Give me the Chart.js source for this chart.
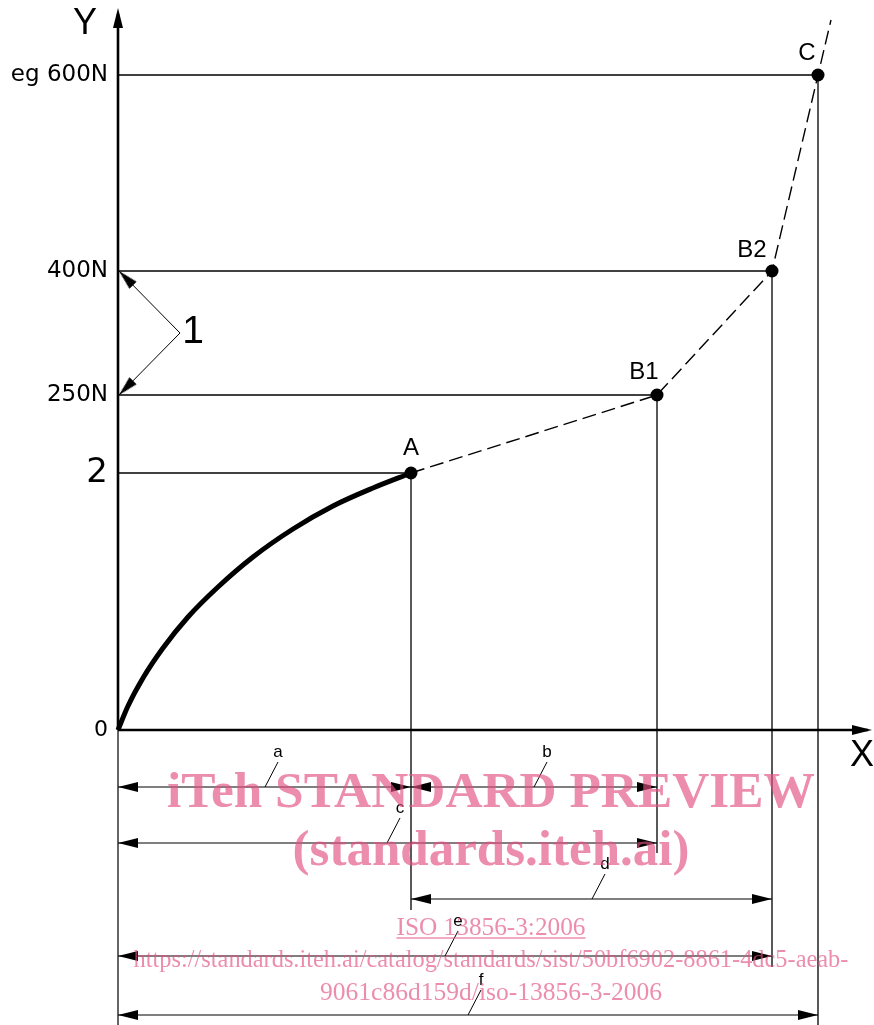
<!DOCTYPE html>
<html><head><meta charset="utf-8">
<script src="https://cdn.jsdelivr.net/npm/chart.js@4.4.1/dist/chart.umd.min.js"></script>
<style>html,body{margin:0;padding:0;background:#fff}canvas{display:block}</style>
</head><body>
<canvas id="c" width="874" height="1025"></canvas>
<script>
// ---------- data (schematic units, origin at 0,0) ----------
const pointNames = ['A', 'B1', 'B2', 'C'];
const pointX = [293, 539, 654, 700];
const pointY = [257, 335, 459, 655];
const curveX = [0, 10, 25, 45, 70, 100, 135, 175, 215, 255, 293];
const curveY = [0, 24, 52, 82, 113, 143, 173, 201, 224, 242, 257];
const extensionX = [713];
const extensionY = [710];
const yTickValues = [0, 257, 335, 459, 655];
const yTickLabels = ['0', '2', '250N', '400N', 'eg 600N'];
const dimNames = ['a', 'b', 'c', 'd', 'e', 'f'];
const dimFrom = [0, pointX[0], 0, pointX[0], 0, 0];
const dimTo = [pointX[0], pointX[1], pointX[1], pointX[2], pointX[2], pointX[3]];
const dimLevel = [-57, -57, -113, -169, -226, -285];
const dimLeaderX = [147, 416, 269, 474, 327, 350];
const extBottom = [-180, -123, -237, -295];
const calloutLabel = '1';
const calloutVertex = [62, 397];
const calloutTargets = [459, 335];
const axisNames = ['X', 'Y'];
const watermarkLines = [
  'iTeh STANDARD PREVIEW',
  '(standards.iteh.ai)',
  'ISO 13856-3:2006',
  'https://standards.iteh.ai/catalog/standards/sist/50bf6902-8861-4dc5-aeab-',
  '9061c86d159d/iso-13856-3-2006'
];

// ---------- ranges ----------
const X_MAX = 756, Y_MIN = -295, Y_MAX = 730;

// ---------- styles ----------
const FONT = '"DejaVu Sans", Arial, sans-serif';
const LFONT = '"Liberation Sans", Arial, sans-serif';
const tickSizes = [22, 34, 23, 23, 23];
const pointLabelOffsets = [[0, -25], [-13, -23], [-20, -21], [-11, -22]];
const wmStyle = [
  {cx: 491, base: 807, w: 648, bold: true},
  {cx: 491, base: 865, w: 397, bold: true},
  {cx: 491, base: 935, w: 189, bold: false, underline: true},
  {cx: 491, base: 967, w: 715, bold: false},
  {cx: 491, base: 1000, w: 342, bold: false}
];

function makeArrow(L, W) {
  const cv = document.createElement('canvas');
  cv.width = 2 * L; cv.height = W;
  const g = cv.getContext('2d');
  g.fillStyle = '#000';
  g.beginPath(); g.moveTo(L, W / 2); g.lineTo(0, 0); g.lineTo(0, W); g.closePath(); g.fill();
  return cv;
}
const arrowImg = makeArrow(20, 10);

function line(pts, opts) {
  return Object.assign({
    data: pts, showLine: true, pointRadius: 0, borderColor: '#000',
    backgroundColor: '#000', borderWidth: 1.3, fill: false, clip: false, tension: 0
  }, opts || {});
}
const P = (x, y) => ({x, y});

const datasets = [];
// axes
datasets.push(line([P(0, 0), P(0, 716)], {borderWidth: 2.6}));
datasets.push(line([P(0, 0), P(X_MAX - 6, 0)], {borderWidth: 2.6}));
datasets.push(line([P(0, 0), P(0, Y_MIN)], {borderWidth: 1.2}));
// guide lines
pointX.forEach((px, i) => {
  datasets.push(line([P(0, pointY[i]), P(px, pointY[i])], {borderWidth: 1.4}));
  datasets.push(line([P(px, pointY[i]), P(px, extBottom[i])], {borderWidth: 1.3}));
});
// dimension lines + leaders
const arrowPts = [], arrowRot = [];
dimNames.forEach((n, i) => {
  datasets.push(line([P(dimFrom[i], dimLevel[i]), P(dimTo[i], dimLevel[i])], {borderWidth: 1.1}));
  datasets.push(line([P(dimLeaderX[i], dimLevel[i]), P(dimLeaderX[i] + 13, dimLevel[i] + 25)], {borderWidth: 1}));
  arrowPts.push(P(dimFrom[i], dimLevel[i])); arrowRot.push(180);
  arrowPts.push(P(dimTo[i], dimLevel[i])); arrowRot.push(0);
});
// callout
calloutTargets.forEach(t => {
  datasets.push(line([P(calloutVertex[0], calloutVertex[1]), P(1, t)], {borderWidth: 1}));
  arrowPts.push(P(1, t));
  arrowRot.push(Math.atan2(-(t - calloutVertex[1]), 1 - calloutVertex[0]) * 180 / Math.PI);
});
// axis arrows
arrowPts.push(P(0, 722)); arrowRot.push(-90);
arrowPts.push(P(X_MAX - 2, 0)); arrowRot.push(0);
// curve
datasets.push(line(curveX.map((x, i) => P(x, curveY[i])), {borderWidth: 5, cubicInterpolationMode: 'monotone'}));
// dashed path
const dashPts = pointX.map((x, i) => P(x, pointY[i])).concat(extensionX.map((x, i) => P(x, extensionY[i])));
datasets.push(line(dashPts, {borderWidth: 1.4, borderDash: [14, 6]}));
// arrowheads
datasets.push({data: arrowPts, showLine: false, pointStyle: arrowImg, pointRadius: 5, pointRotation: arrowRot, clip: false});
// points
datasets.push({data: pointX.map((x, i) => P(x, pointY[i])), showLine: false, pointRadius: 6.5, pointBackgroundColor: '#000', pointBorderColor: '#000', pointBorderWidth: 0, clip: false});

const textPlugin = {
  id: 'texts',
  afterDatasetsDraw(chart) {
    const {ctx, scales: {x, y}} = chart;
    ctx.save();
    ctx.fillStyle = '#000'; ctx.textAlign = 'center'; ctx.textBaseline = 'middle';
    // point labels
    ctx.font = '24px ' + LFONT;
    pointNames.forEach((n, i) => {
      ctx.fillText(n, x.getPixelForValue(pointX[i]) + pointLabelOffsets[i][0], y.getPixelForValue(pointY[i]) + pointLabelOffsets[i][1]);
    });
    // axis names
    ctx.font = '36px ' + LFONT;
    ctx.fillText(axisNames[0], x.getPixelForValue(X_MAX) - 12, y.getPixelForValue(0) + 26);
    ctx.fillText(axisNames[1], x.getPixelForValue(0) - 33, y.getPixelForValue(Y_MAX) + 24);
    // callout
    ctx.font = '39px ' + LFONT;
    ctx.fillText(calloutLabel, x.getPixelForValue(calloutVertex[0]) + 13, y.getPixelForValue(calloutVertex[1]) - 1);
    // dimension letters
    ctx.font = '17px ' + LFONT;
    dimNames.forEach((n, i) => {
      ctx.fillText(n, x.getPixelForValue(dimLeaderX[i] + 13), y.getPixelForValue(dimLevel[i] + 35));
    });
    ctx.restore();
  },
  afterDraw(chart) {
    const ctx = chart.ctx;
    ctx.save();
    ctx.fillStyle = 'rgba(226,80,130,0.65)';
    ctx.strokeStyle = 'rgba(226,80,130,0.65)';
    ctx.textAlign = 'center'; ctx.textBaseline = 'alphabetic';
    watermarkLines.forEach((t, i) => {
      const s = wmStyle[i];
      const fam = '"Liberation Serif", "Times New Roman", serif';
      ctx.font = (s.bold ? 'bold ' : '') + '100px ' + fam;
      const size = 100 * s.w / ctx.measureText(t).width;
      ctx.font = (s.bold ? 'bold ' : '') + size.toFixed(2) + 'px ' + fam;
      ctx.fillText(t, s.cx, s.base);
      if (s.underline) {
        ctx.lineWidth = 1.3;
        ctx.beginPath(); ctx.moveTo(s.cx - s.w / 2, s.base + 3); ctx.lineTo(s.cx + s.w / 2, s.base + 3); ctx.stroke();
      }
    });
    ctx.restore();
  }
};

new Chart(document.getElementById('c'), {
  type: 'scatter',
  data: {datasets},
  options: {
    responsive: false, animation: false, events: [],
    layout: {padding: 0, autoPadding: false},
    plugins: {legend: {display: false}, tooltip: {enabled: false}},
    scales: {
      x: {type: 'linear', min: 0, max: X_MAX, display: false},
      y: {
        type: 'linear', min: Y_MIN, max: Y_MAX,
        border: {display: false},
        grid: {display: false, drawTicks: false},
        afterBuildTicks: s => { s.ticks = yTickValues.map(v => ({value: v})); },
        afterFit: s => { s.width = 118; s.paddingTop = 0; s.paddingBottom = 0; },
        ticks: {
          autoSkip: false, padding: 10, color: '#000',
          callback: (v, i) => yTickLabels[i],
          font: c => ({family: FONT, size: tickSizes[c.index] || 22})
        }
      }
    }
  },
  plugins: [textPlugin]
});
</script>
</body></html>
